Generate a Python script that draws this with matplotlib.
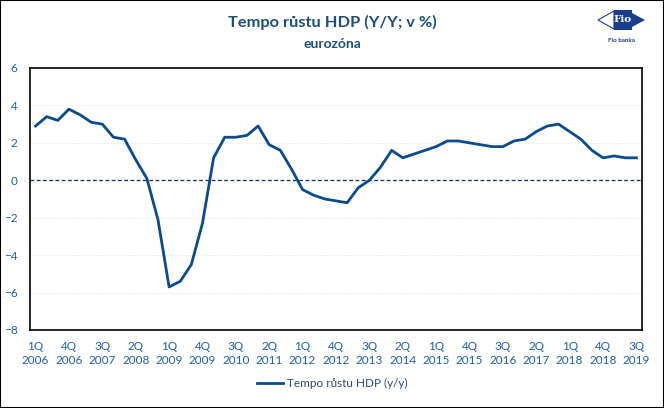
import matplotlib.pyplot as plt
from matplotlib.patches import Polygon

plt.rcParams['font.family'] = ['Lato', 'DejaVu Sans']

# quarterly y/y GDP growth, euro area, 1Q 2006 .. 3Q 2019
quarters = [f"{q}Q\n{y}" for y in range(2006, 2020) for q in range(1, 5)][:55]
gdp = [2.9, 3.4, 3.2, 3.8, 3.5, 3.1, 3.0, 2.3, 2.2, 1.1,
       0.1, -2.1, -5.7, -5.4, -4.5, -2.3, 1.2, 2.3, 2.3, 2.4,
       2.9, 1.9, 1.6, 0.6, -0.5, -0.8, -1.0, -1.1, -1.2, -0.4,
       0.0, 0.7, 1.6, 1.2, 1.4, 1.6, 1.8, 2.1, 2.1, 2.0,
       1.9, 1.8, 1.8, 2.1, 2.2, 2.6, 2.9, 3.0, 2.6, 2.2,
       1.6, 1.2, 1.3, 1.2, 1.2]
yticks = [-8, -6, -4, -2, 0, 2, 4, 6]

line_col = '#0B4A8B'
tick_col = '#1F5FA8'
title_col = '#1F4E79'

fig = plt.figure(figsize=(6.64, 4.08), dpi=100)
ax = fig.add_axes([30/664, 78/408, 612/664, 262/408])

x = list(range(len(gdp)))
ax.plot(x, gdp, color=line_col, lw=2.0, label='Tempo růstu HDP (y/y)', zorder=3)
ax.axhline(0, color='#0B2F5F', lw=0.9, ls=(0, (3, 2)), zorder=2)

ax.set_xlim(-0.5, len(gdp) - 0.5)
ax.set_ylim(-8, 6)
ax.set_yticks(yticks)
for t in yticks:
    if t not in (0, -8, 6):
        ax.axhline(t, color='#E0E0E0', lw=0.7, ls=(0, (1, 1.5)), zorder=1)
ax.set_xticks(x[::3])
ax.set_xticklabels(quarters[::3], fontsize=8.5, color=tick_col, linespacing=1.35)
ax.tick_params(axis='y', labelsize=8.5, labelcolor=tick_col, length=0, pad=9)
ax.tick_params(axis='x', length=0, pad=8)
for s in ax.spines.values():
    s.set_linewidth(1.2)
    s.set_color('black')

fig.text(0.5, 0.945, 'Tempo růstu HDP (Y/Y; v %)', ha='center', va='center',
         fontsize=11.8, fontweight='bold', color=title_col)
fig.text(0.5, 0.893, 'eurozóna', ha='center', va='center',
         fontsize=10, fontweight='bold', color=title_col)

leg = fig.legend(loc='center', bbox_to_anchor=(0.5, 0.06), frameon=False,
                 fontsize=8.5, handlelength=2.2, handletextpad=0.3)
for t in leg.get_texts():
    t.set_color('#2F4A6B')

# Fio banka logo
def px(xp, yp):
    return (xp / 664, 1 - yp / 408)

fig.patches.append(Polygon([px(614, 11), px(598, 20), px(614, 29)], closed=True,
                           facecolor='white', edgecolor='#1A3D8F', lw=0.8,
                           transform=fig.transFigure))
fig.patches.append(Polygon([px(614, 10), px(632, 10), px(632, 30), px(614, 30)],
                           closed=True, facecolor='#1A3D8F', edgecolor='none',
                           transform=fig.transFigure))
fig.patches.append(Polygon([px(632, 13), px(645, 20), px(632, 27)], closed=True,
                           facecolor='#1A3D8F', edgecolor='none',
                           transform=fig.transFigure))
fig.text(*px(623, 20), 'Fio', ha='center', va='center', fontsize=7.5,
         fontweight='bold', color='white', family='DejaVu Serif')
fig.text(*px(621, 41), 'Fio banka', ha='center', va='center', fontsize=4.5,
         fontweight='bold', color='#1A3D8F')

fig.patches.append(plt.Rectangle((0, 0), 1, 1, transform=fig.transFigure,
                                 fill=False, edgecolor='black', lw=1.5))

fig.savefig('out.png', dpi=100)
